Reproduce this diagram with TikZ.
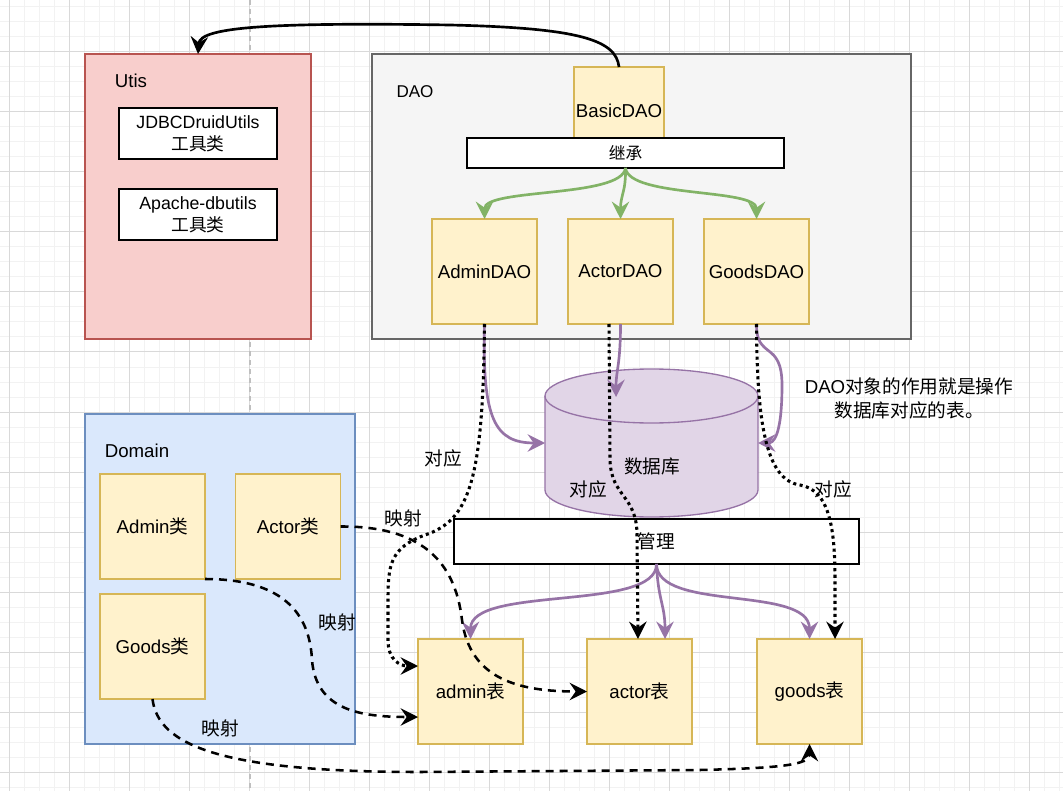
\documentclass[tikz,border=0pt]{standalone}
\usepackage{fontspec}
\setmainfont{Liberation Sans}
\newfontfamily\cjk{Noto Sans CJK SC}
\usetikzlibrary{arrows.meta}

\definecolor{ylwfill}{HTML}{FFF2CC}
\definecolor{ylwline}{HTML}{D6B656}
\definecolor{redfill}{HTML}{F8CECC}
\definecolor{redline}{HTML}{B85450}
\definecolor{grayfill}{HTML}{F5F5F5}
\definecolor{grayline}{HTML}{666666}
\definecolor{bluefill}{HTML}{DAE8FC}
\definecolor{blueline}{HTML}{6C8EBF}
\definecolor{dbfill}{HTML}{E1D5E7}
\definecolor{dbline}{HTML}{9673A6}
\definecolor{inhline}{HTML}{82B366}

\begin{document}
\begin{tikzpicture}[x=0.75pt,y=-0.75pt,>={Stealth[length=13pt,width=13pt,inset=4.5pt]},
    every node/.style={font=\fontsize{14}{16.5}\selectfont,inner sep=0pt,outer sep=0pt},
    gridminor/.style={draw=black!5,line width=0.75pt},
    gridmajor/.style={draw=black!15,line width=0.75pt},
    area/.style={line width=1pt},
    cls/.style={draw=ylwline,fill=ylwfill,line width=1pt,minimum width=78.75pt,minimum height=78.75pt},
    tool/.style={draw=black,fill=white,line width=1pt,minimum width=118.5pt,minimum height=38.25pt,align=center,font=\fontsize{13.3}{16.5}\selectfont},
    bar/.style={draw=black,fill=white,line width=1pt},
    inh/.style={draw=inhline,line width=2pt,->},
    mng/.style={draw=dbline,line width=2pt,->},
    map/.style={draw=black,line width=1.9pt,dash pattern=on 6pt off 4.5pt,->},
    rel/.style={draw=black,line width=2.3pt,dash pattern=on 2.3pt off 2.6pt,->}]
  \useasboundingbox[fill=white] (0,0) rectangle (1063,791);
  % grid
  \foreach \gx in {9,24,...,1063} \draw[gridminor] (\gx,0) -- (\gx,791);
  \foreach \gy in {7,22,...,791} \draw[gridminor] (0,\gy) -- (1063,\gy);
  \foreach \gx in {9,69,...,1063} \draw[gridmajor] (\gx,0) -- (\gx,791);
  \foreach \gy in {52,112,...,791} \draw[gridmajor] (0,\gy) -- (1063,\gy);
  \draw[black!25,line width=1pt,dash pattern=on 3.75pt off 3pt] (250,0) -- (250,791);

  % areas
  \node[area,draw=redline,fill=redfill,minimum width=169.5pt,minimum height=213.75pt] (utis) at (198,196.5) {};
  \node[area,draw=grayline,fill=grayfill,minimum width=404.25pt,minimum height=213.75pt] (dao) at (641.5,196.5) {};
  \node[area,draw=blueline,fill=bluefill,minimum width=202.5pt,minimum height=247.5pt] (domain) at (220,579) {};
  \node (utistitle) at (131,81) {Utis};
  \node[font=\fontsize{12.8}{15}\selectfont] (daotitle) at (415,92) {DAO};
  \node (domaintitle) at (137,451) {Domain};

  % tools
  \node[tool] (druid) at (198,133.5) {JDBCDruidUtils\\{\cjk 工具类}};
  \node[tool] (dbutils) at (198,214.5) {Apache-dbutils\\{\cjk 工具类}};

  % dao classes
  \node[cls,minimum width=67.5pt,minimum height=66pt] (basic) at (619,111) {BasicDAO};
  \node[bar,minimum width=237.75pt,minimum height=22.5pt,font=\fontsize{12.5}{15}\selectfont] (inherit) at (625.5,153) {\cjk 继承};
  \node[cls] (admindao) at (484.5,271.5) {AdminDAO};
  \node[cls] (actordao) at (620.5,271.5) {ActorDAO};
  \node[cls] (goodsdao) at (756.5,271.5) {GoodsDAO};

  % domain classes
  \node[cls] (admincls) at (152.5,526.5) {Admin{\cjk 类}};
  \node[cls] (actorcls) at (288,526.5) {Actor{\cjk 类}};
  \node[cls] (goodscls) at (152.5,646.5) {Goods{\cjk 类}};

  % database
  \fill[dbfill] (545,396) -- (545,490) arc[start angle=180,end angle=0,x radius=106.5,y radius=27]
    -- (758,396) arc[start angle=0,end angle=-180,x radius=106.5,y radius=27] -- cycle;
  \draw[dbline,line width=1pt] (545,396) -- (545,490) arc[start angle=180,end angle=0,x radius=106.5,y radius=27] -- (758,396);
  \draw[dbline,line width=1pt] (651.5,396) ellipse[x radius=106.5,y radius=27];
  \node[minimum width=159.75pt,minimum height=111pt] (db) at (651.5,443) {};
  \node (dbtext) at (652,466) {\cjk 数据库};
  \coordinate (dbtop) at (616,397);

  \node[bar,minimum width=303.75pt,minimum height=33.75pt] (manage) at (656.5,541.5) {\cjk 管理};

  % tables
  \node[cls] (admintab) at (470.5,691.5) {admin{\cjk 表}};
  \node[cls] (actortab) at (639.5,691.5) {actor{\cjk 表}};
  \node[cls] (goodstab) at (809.5,691.5) {goods{\cjk 表}};
  \coordinate (adminin) at (418,666);
  \coordinate (adminmap) at (418,717);
  \coordinate (actorout) at (609,324);
  \coordinate (actorrel) at (638,639);
  \coordinate (actormng) at (665,639);
  \coordinate (goodsrel) at (835,639);

  \node[align=center,font=\fontsize{14}{18}\selectfont] (note) at (909,398) {DAO{\cjk 对象的作用就是操作}\\{\cjk 数据库对应的表。}};

  % inheritance
  \draw[black,line width=2pt,->] (basic.north) .. controls (616,40) and (580,28) .. (450,25)
    .. controls (260,22) and (200,28) .. (utis.north);
  \draw[inh] (inherit.south) .. controls (622,198) and (484.5,188) .. (admindao.north);
  \draw[inh] (inherit.south) .. controls (626,192) and (620.5,195) .. (actordao.north);
  \draw[inh] (inherit.south) .. controls (629,198) and (756.5,188) .. (goodsdao.north);

  % dao -> database
  \draw[mng] (admindao.south) .. controls (482,420) and (495,443) .. (db.west);
  \draw[mng] (actordao.south) .. controls (620.5,365) and (616,370) .. (dbtop);
  \draw[mng] (goodsdao.south) .. controls (756,360) and (782,340) .. (782,385)
    .. controls (782,440) and (772,443) .. (db.east);

  % database manages tables
  \draw[mng] (manage.south) .. controls (657,612) and (470.5,585) .. (admintab.north);
  \draw[mng] (manage.south) .. controls (658,600) and (665,605) .. (actormng);
  \draw[mng] (manage.south) .. controls (657,612) and (809.5,585) .. (goodstab.north);

  % dao <-> table
  \draw[rel] (admindao.south) .. controls (483,480) and (470,520) .. (425,535)
    .. controls (390,548) and (388,565) .. (388,600) -- (388,640)
    .. controls (388,660) and (400,666) .. (adminin);
  \draw[rel] (actorout) -- (610,460) .. controls (611,497) and (637,495) .. (637,535) -- (actorrel);
  \draw[rel] (goodsdao.south) .. controls (757,420) and (765,480) .. (800,485)
    .. controls (830,490) and (835,530) .. (835,580) -- (goodsrel);
  \node (rel1) at (443,458) {\cjk 对应};
  \node (rel2) at (588,489) {\cjk 对应};
  \node (rel3) at (833,489) {\cjk 对应};

  % class -> table
  \draw[map] (actorcls.east) .. controls (420,526) and (455,560) .. (462,620)
    .. controls (470,680) and (520,691.5) .. (actortab.west);
  \draw[map] (admincls.south east) .. controls (290,579) and (310,620) .. (312,660)
    .. controls (316,710) and (360,717) .. (adminmap);
  \draw[map] (goodscls.south) .. controls (158,745) and (220,772) .. (420,772) -- (700,770)
    .. controls (780,768) and (809.5,765) .. (goodstab.south);
  \node (map1) at (403,518) {\cjk 映射};
  \node (map2) at (337,622) {\cjk 映射};
  \node (map3) at (220,728) {\cjk 映射};
\end{tikzpicture}
\end{document}
